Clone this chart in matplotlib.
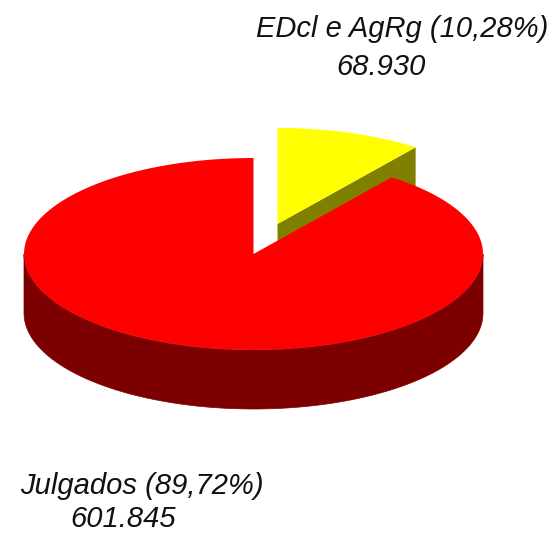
import numpy as np
import matplotlib
matplotlib.use('Agg')
import matplotlib.pyplot as plt
from matplotlib.patches import Polygon

# ---- data ----
categories = ['Julgados', 'EDcl e AgRg']
values = [601845, 68930]
pct_labels = ['89,72%', '10,28%']
value_labels = ['601.845', '68.930']

# ---- style ----
top_colors = ['#ff0000', '#ffff00']
side_colors = ['#7d0000', '#808000']
explode = [0.0, 0.33]

fig = plt.figure(figsize=(5.57, 5.36), dpi=100)
ax = fig.add_axes([0, 0, 1, 1])
ax.set_xlim(0, 557)
ax.set_ylim(536, 0)
ax.axis('off')

cx, cy, a, b, depth = 253.5, 254.0, 229.5, 96.0, 59.0

total = float(sum(values))
fracs = [v / total for v in values]
slices = []
start = 90.0
for i, f in enumerate(fracs):
    t1 = start
    t2 = start + 360.0 * f
    start = t2
    mid = np.radians((t1 + t2) / 2)
    off = (explode[i] * a * np.cos(mid), -explode[i] * b * np.sin(mid))
    slices.append((i, t1, t2, off, mid))


def pt(t_deg, off, dz=0.0):
    t = np.radians(t_deg)
    return (cx + off[0] + a * np.cos(t), cy + off[1] - b * np.sin(t) + dz)


def arc(t1, t2, off, dz=0.0, n=200):
    ts = np.linspace(t1, t2, n)
    return [pt(t, off, dz) for t in ts]


# draw back slices first
order = sorted(slices, key=lambda s: -np.sin(s[4]))
for i, t1, t2, off, mid in order:
    apex = (cx + off[0], cy + off[1])
    apex_d = (apex[0], apex[1] + depth)
    # cut face at t1 (normal direction t1-90)
    if np.sin(np.radians(t1 - 90)) < -1e-6:
        p = pt(t1, off)
        pd = pt(t1, off, depth)
        ax.add_patch(Polygon([apex, p, pd, apex_d], closed=True,
                             facecolor=side_colors[i], edgecolor='none'))
    # cut face at t2 (normal direction t2+90)
    if np.sin(np.radians(t2 + 90)) < -1e-6:
        p = pt(t2, off)
        pd = pt(t2, off, depth)
        ax.add_patch(Polygon([apex, p, pd, apex_d], closed=True,
                             facecolor=side_colors[i], edgecolor='none'))
    # outer side (front half: 180..360)
    for k in (-1, 0, 1):
        lo = max(t1, 180 + 360 * k)
        hi = min(t2, 360 + 360 * k)
        if lo < hi:
            pts = arc(lo, hi, off) + arc(hi, lo, off, depth)
            ax.add_patch(Polygon(pts, closed=True, facecolor=side_colors[i],
                                 edgecolor=side_colors[i], linewidth=0.5))
    # top
    pts = [apex] + arc(t1, t2, off)
    ax.add_patch(Polygon(pts, closed=True, facecolor=top_colors[i],
                         edgecolor='none'))

font = dict(family=['Liberation Sans', 'DejaVu Sans'], style='italic',
            fontsize=21, color='#111111')
# labels
ax.text(402.5, 37, f'{categories[1]} ({pct_labels[1]})', ha='center',
        va='baseline', **font)
ax.text(381, 75, value_labels[1], ha='center', va='baseline', **font)
ax.text(141.5, 494, f'{categories[0]} ({pct_labels[0]})', ha='center',
        va='baseline', **font)
ax.text(123.5, 527, value_labels[0], ha='center', va='baseline', **font)

fig.savefig('out.png', dpi=100)
